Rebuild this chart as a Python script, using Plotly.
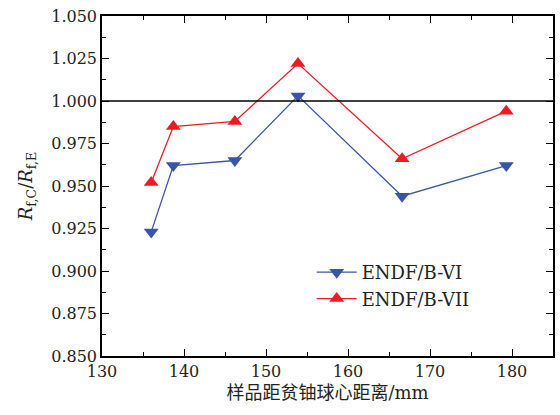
import plotly.graph_objects as go

x_vals = [136.0, 138.7, 146.2, 153.9, 166.6, 179.3]
endf_b6 = [0.923, 0.962, 0.965, 1.003, 0.944, 0.962]
endf_b7 = [0.952, 0.985, 0.988, 1.022, 0.966, 0.994]
y_ticks = [0.850, 0.875, 0.900, 0.925, 0.950, 0.975, 1.000, 1.025, 1.050]
x_ticks = [130, 140, 150, 160, 170, 180]

font_serif = "DejaVu Serif"

fig = go.Figure()
fig.add_trace(go.Scatter(
    x=x_vals, y=endf_b6, mode="lines+markers", name="ENDF/B-VI",
    line=dict(color="#3a55a5", width=1.3),
    marker=dict(symbol="triangle-down", size=13, color="#3a55a5"),
))
fig.add_trace(go.Scatter(
    x=x_vals, y=endf_b7, mode="lines+markers", name="ENDF/B-VII",
    line=dict(color="#ed1c24", width=1.3),
    marker=dict(symbol="triangle-up", size=13, color="#ed1c24"),
))

fig.add_shape(type="line", xref="paper", x0=0, x1=1, yref="y", y0=1.0, y1=1.0,
              line=dict(color="black", width=1.5))

fig.update_layout(
    template="none",
    font=dict(family=font_serif, size=16, color="#222"),
    width=560, height=415,
    margin=dict(l=102, r=7, t=16, b=59, autoexpand=False),
    paper_bgcolor="white", plot_bgcolor="white",
    showlegend=True,
    legend=dict(x=0.465, y=0.30, xanchor="left", yanchor="top",
                font=dict(family=font_serif, size=18, color="#222"),
                bgcolor="rgba(0,0,0,0)", tracegroupgap=0, itemwidth=40),
    xaxis=dict(
        range=[130, 185], tickmode="array", tickvals=x_ticks,
        showline=True, linecolor="black", linewidth=1.5, mirror="allticks",
        ticks="inside", ticklen=7, tickwidth=1.3, tickcolor="#000000",
        showgrid=False, zeroline=False, automargin=False,
        tickfont=dict(family=font_serif, size=16, color="#222"),
        minor=dict(dtick=5, tick0=130, ticks="inside", ticklen=4, tickwidth=1, tickcolor="#000000", showgrid=False),
        title=dict(text="样品距贫铀球心距离/mm",
                   font=dict(family="DejaVu Serif, Noto Sans CJK SC", size=18, color="#222"), standoff=6),
    ),
    yaxis=dict(
        range=[0.850, 1.050], tickmode="array", tickvals=y_ticks, tickformat=".3f",
        showline=True, linecolor="black", linewidth=1.5, mirror="allticks",
        ticks="inside", ticklen=7, tickwidth=1.3, tickcolor="#000000",
        showgrid=False, zeroline=False, automargin=False,
        tickfont=dict(family=font_serif, size=16, color="#222"),
        minor=dict(dtick=0.0125, tick0=0.85, ticks="inside", ticklen=4, tickwidth=1, tickcolor="#000000", showgrid=False),
        title=dict(text="<i>R</i><sub>f,C</sub>/<i>R</i><sub>f,E</sub>",
                   font=dict(family=font_serif, size=18, color="#222"), standoff=14),
    ),
)

fig.write_html("out.html", config={"displayModeBar": False},
               post_script="document.body.style.margin='0';document.body.style.padding='0';")
